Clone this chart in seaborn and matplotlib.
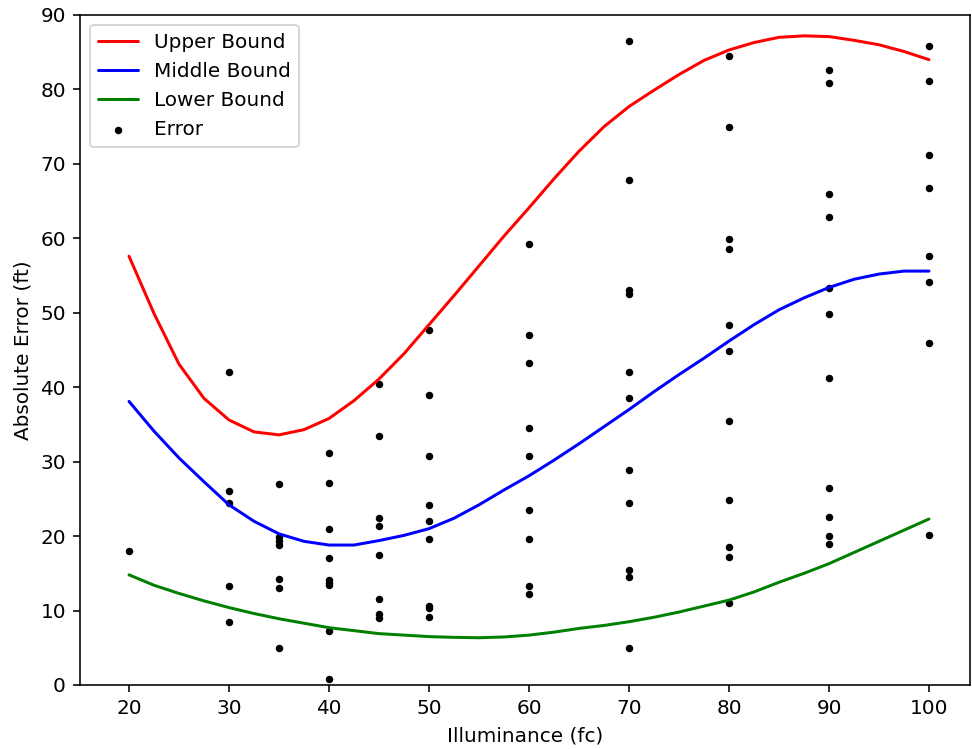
import numpy as np
import pandas as pd
import matplotlib
matplotlib.use("Agg")
import matplotlib.pyplot as plt
import seaborn as sns

# bound curves, every 2.5 fc
curve_x = np.arange(20, 102.5, 2.5)
upper = [57.6, 49.9, 43.1, 38.5, 35.6, 34.0, 33.6, 34.3, 35.8, 38.2, 41.1,
         44.5, 48.4, 52.3, 56.3, 60.3, 64.1, 68.0, 71.7, 75.0, 77.7, 79.9,
         82.0, 83.9, 85.3, 86.3, 87.0, 87.2, 87.1, 86.6, 86.0, 85.1, 84.0]
middle = [38.1, 34.1, 30.5, 27.3, 24.2, 22.0, 20.3, 19.3, 18.8, 18.8, 19.4,
          20.1, 21.0, 22.4, 24.2, 26.2, 28.1, 30.2, 32.4, 34.7, 37.0, 39.4,
          41.7, 43.9, 46.2, 48.4, 50.4, 52.0, 53.4, 54.5, 55.2, 55.6, 55.6]
lower = [14.8, 13.4, 12.3, 11.3, 10.4, 9.6, 8.9, 8.3, 7.7, 7.3, 6.9,
         6.7, 6.5, 6.4, 6.35, 6.45, 6.7, 7.1, 7.6, 8.0, 8.5, 9.1,
         9.8, 10.6, 11.4, 12.5, 13.8, 15.0, 16.3, 17.8, 19.3, 20.8, 22.3]

# measured absolute errors per illuminance level
err_20 = [18.0]
err_30 = [42.0, 26.0, 24.5, 13.3, 8.5]
err_35 = [27.0, 19.9, 19.3, 18.8, 14.2, 13.0, 5.0]
err_40 = [31.2, 27.1, 21.0, 17.0, 14.1, 13.7, 13.4, 7.2, 0.8]
err_45 = [40.4, 33.5, 22.5, 21.3, 17.4, 11.5, 9.5, 9.0]
err_50 = [47.7, 38.9, 30.8, 24.2, 22.0, 19.6, 10.6, 10.3, 9.2]
err_60 = [59.2, 47.0, 43.2, 34.5, 30.8, 23.5, 19.6, 13.3, 12.2]
err_70 = [86.5, 67.9, 53.0, 52.5, 42.0, 38.5, 28.9, 24.5, 15.4, 14.5, 5.0]
err_80 = [84.5, 75.0, 59.9, 58.6, 48.3, 44.8, 35.5, 24.8, 18.5, 17.2, 11.0]
err_90 = [82.6, 80.8, 66.0, 62.8, 53.3, 49.8, 41.2, 26.5, 22.6, 20.0, 19.0]
err_100 = [85.9, 81.2, 71.2, 66.7, 57.6, 54.2, 46.0, 20.2]

levels = [20, 30, 35, 40, 45, 50, 60, 70, 80, 90, 100]
errs = [err_20, err_30, err_35, err_40, err_45, err_50,
        err_60, err_70, err_80, err_90, err_100]

df = pd.DataFrame({
    "illum": [lv for lv, e in zip(levels, errs) for _ in e],
    "error": [v for e in errs for v in e],
})

sns.set_style("ticks", {"axes.edgecolor": "black", "xtick.color": "black",
                        "ytick.color": "black", "text.color": "black",
                        "axes.labelcolor": "black"})
plt.rcParams["font.family"] = ["DejaVu Sans"]

fig = plt.figure(figsize=(6.75, 749 / 144))
ax = fig.add_axes([80 / 972, 1 - 685 / 749, 890 / 972, 670 / 749])

sns.lineplot(x=curve_x, y=upper, color="red", label="Upper Bound", ax=ax)
sns.lineplot(x=curve_x, y=middle, color="blue", label="Middle Bound", ax=ax)
sns.lineplot(x=curve_x, y=lower, color="green", label="Lower Bound", ax=ax)
sns.scatterplot(data=df, x="illum", y="error", color="black", s=14,
                linewidth=0, label="Error", ax=ax)

ax.set_xlim(15.1, 104.1)
ax.set_ylim(0, 90)
ax.set_xticks([20, 30, 40, 50, 60, 70, 80, 90, 100])
ax.set_xlabel("Illuminance (fc)")
ax.set_ylabel("Absolute Error (ft)")
ax.legend(loc="upper left")

fig.savefig("out.png", dpi=144)
